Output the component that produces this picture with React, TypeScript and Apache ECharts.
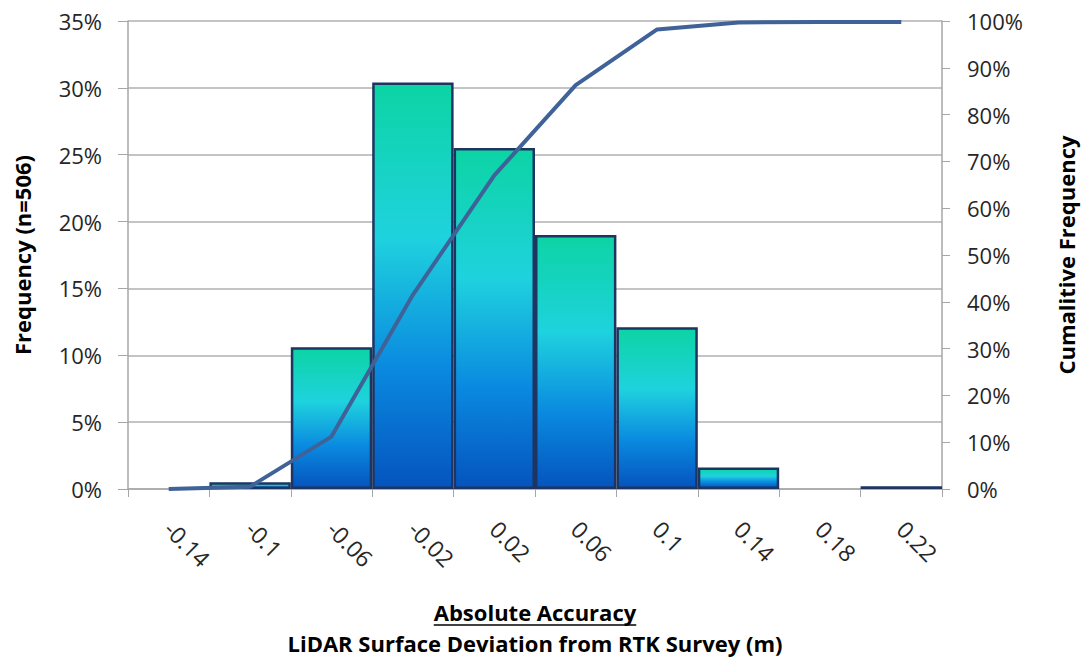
import React, { useEffect, useRef } from "react";
import * as echarts from "echarts";

const categories = ["-0.14", "-0.1", "-0.06", "-0.02", "0.02", "0.06", "0.1", "0.14", "0.18", "0.22"];
const frequency = [0, 0.5, 10.6, 30.4, 25.5, 19.0, 12.1, 1.6, 0, 0.2];
const cumulative = [0, 0.5, 11.2, 41.5, 67.0, 86.3, 98.2, 99.7, 99.8, 99.8];

const xTitle1 = "Absolute Accuracy";
const xTitle2 = "LiDAR Surface Deviation from RTK Survey (m)";
const yLeftTitle = "Frequency (n=506)";
const yRightTitle = "Cumalitive Frequency";

const FONT = "'Open Sans', 'Liberation Sans', sans-serif";
const TEXT = "#262626";

function measure(text: string, font: string): number {
  const c = document.createElement("canvas");
  const ctx = c.getContext("2d");
  if (!ctx) return text.length * 11;
  ctx.font = font;
  return ctx.measureText(text).width;
}

export default function App() {
  const ref = useRef<HTMLDivElement>(null);
  useEffect(() => {
    if (!ref.current) return;
    const chart = echarts.init(ref.current, undefined, { renderer: "svg" });
    const titleFont = 22;
    const w1 = measure(xTitle1, `bold ${titleFont}px 'Open Sans'`);
    const cx = 535;
    const barGradient = new echarts.graphic.LinearGradient(0, 0, 0, 1, [
      { offset: 0, color: "#0cd4a4" },
      { offset: 0.38, color: "#1fd2de" },
      { offset: 0.7, color: "#0a8ae0" },
      { offset: 1, color: "#0554be" },
    ]);
    const titleStyle = {
      fontSize: titleFont,
      fontWeight: "bold",
      fontFamily: FONT,
      fill: "#000",
      align: "center",
      verticalAlign: "middle",
    };
    chart.setOption({
      animation: false,
      textStyle: { fontFamily: FONT },
      grid: { left: 128, right: 139, top: 21, bottom: 172 },
      xAxis: {
        type: "category",
        data: categories,
        boundaryGap: true,
        axisLine: { lineStyle: { color: "#a6a6a6", width: 1.5 } },
        axisTick: { show: true, alignWithLabel: false, length: 8, lineStyle: { color: "#a6a6a6" } },
        axisLabel: { rotate: -45, margin: 36, fontSize: 23, color: TEXT, fontFamily: FONT },
        splitLine: { show: false },
      },
      yAxis: [
        {
          type: "value",
          min: 0,
          max: 35,
          interval: 5,
          position: "left",
          axisLine: { show: true, lineStyle: { color: "#a6a6a6", width: 1.5 } },
          axisTick: { show: true, length: 10, lineStyle: { color: "#a6a6a6" } },
          axisLabel: { formatter: "{value}%", margin: 26, fontSize: 22, color: TEXT, fontFamily: FONT },
          splitLine: { show: true, lineStyle: { color: "#b0b0b0", width: 1.5 } },
        },
        {
          type: "value",
          min: 0,
          max: 100,
          interval: 10,
          position: "right",
          axisLine: { show: true, lineStyle: { color: "#a6a6a6", width: 1.5 } },
          axisTick: { show: true, length: 8, lineStyle: { color: "#a6a6a6" } },
          axisLabel: { formatter: "{value}%", margin: 25, fontSize: 22, color: TEXT, fontFamily: FONT },
          splitLine: { show: false },
        },
      ],
      series: [
        {
          type: "bar",
          yAxisIndex: 0,
          barCategoryGap: "0%",
          data: frequency.map((v) => ({
            value: v,
            itemStyle: v === 0 ? { borderWidth: 0, opacity: 0 } : undefined,
          })),
          itemStyle: { color: barGradient, borderColor: "#1d3560", borderWidth: 2.5 },
        },
        {
          type: "line",
          yAxisIndex: 1,
          data: cumulative,
          symbol: "none",
          lineStyle: { color: "#3f6298", width: 4 },
          z: 5,
        },
      ],
      graphic: [
        { type: "text", x: cx, y: 612, style: { ...titleStyle, text: xTitle1 } },
        {
          type: "line",
          shape: { x1: cx - w1 / 2, y1: 625, x2: cx + w1 / 2, y2: 625 },
          style: { stroke: "#000", lineWidth: 1.5 },
        },
        { type: "text", x: cx, y: 643, style: { ...titleStyle, text: xTitle2 } },
        { type: "text", x: 22, y: 255, rotation: Math.PI / 2, style: { ...titleStyle, text: yLeftTitle } },
        { type: "text", x: 1066, y: 255, rotation: Math.PI / 2, style: { ...titleStyle, text: yRightTitle } },
      ],
    });
    return () => chart.dispose();
  }, []);
  return <div ref={ref} style={{ width: 1081, height: 661, position: "absolute", left: 0, top: 0, background: "#fff" }} />;
}
